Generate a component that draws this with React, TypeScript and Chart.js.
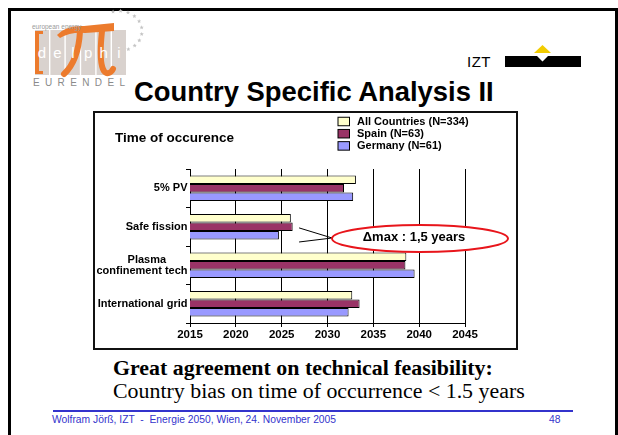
import React, { useEffect, useRef } from 'react';
import { Chart, registerables } from 'chart.js';

Chart.register(...registerables);

// ---- data ----
const categories: (string | string[])[] = [
  '5% PV',
  'Safe fission',
  ['Plasma       ', 'confinement tech'],
  'International grid',
];
const seriesNames = ['All Countries (N=334)', 'Spain (N=63)', 'Germany (N=61)'];
const allCountries = [2033.1, 2026.0, 2038.6, 2032.7];
const spain = [2031.8, 2026.2, 2038.5, 2033.5];
const germany = [2032.8, 2024.7, 2039.5, 2032.3];
const seriesColors = ['#FFFFCC', '#993366', '#9999FF'];
const axisMin = 2015;
const axisMax = 2045;
const axisStep = 5;
const chartHeading = 'Time of occurence';
const annotationText = '\u0394max : 1,5 years';

const SANS = "'Liberation Sans', Arial, Helvetica, sans-serif";
const SERIF = "'Liberation Serif', 'Times New Roman', Times, serif";

const overlayPlugin = {
  id: 'overlay',
  afterDraw(chart: any, _args: any, opts: any) {
    const ctx = chart.ctx as CanvasRenderingContext2D;
    const xs = chart.scales.x;
    const ys = chart.scales.y;
    ctx.save();
    // heading
    ctx.fillStyle = '#000';
    ctx.font = `bold 13.5px ${SANS}`;
    ctx.textBaseline = 'middle';
    ctx.textAlign = 'left';
    ctx.fillText(opts.heading, 21, 26);
    // legend
    ctx.font = `bold 11px ${SANS}`;
    chart.data.datasets.forEach((ds: any, i: number) => {
      const cy = 9.5 + i * 12.2;
      ctx.fillStyle = ds.backgroundColor;
      ctx.fillRect(244, cy - 4.25, 11.5, 8.5);
      ctx.strokeStyle = '#000';
      ctx.lineWidth = 1;
      ctx.strokeRect(244, cy - 4.25, 11.5, 8.5);
      ctx.fillStyle = '#000';
      ctx.fillText(ds.label, 263, cy + 0.5);
    });
    // annotation: pointer lines
    const jx = xs.getPixelForValue(2030.5);
    const jy = ys.getPixelForValue(1.292);
    const sx = xs.getPixelForValue(2026.9);
    ctx.strokeStyle = '#000';
    ctx.lineWidth = 1;
    ctx.beginPath();
    ctx.moveTo(sx, ys.getPixelForValue(1.03));
    ctx.lineTo(jx, jy);
    ctx.moveTo(sx, ys.getPixelForValue(1.396));
    ctx.lineTo(jx, jy);
    ctx.stroke();
    // ellipse
    const ex = xs.getPixelForValue(2040.09);
    const ey = ys.getPixelForValue(1.305);
    ctx.beginPath();
    ctx.ellipse(ex, ey, 88, 13.5, 0, 0, Math.PI * 2);
    ctx.fillStyle = '#fff';
    ctx.fill();
    ctx.strokeStyle = '#E8151B';
    ctx.lineWidth = 2;
    ctx.stroke();
    ctx.fillStyle = '#000';
    ctx.font = `bold 13px ${SANS}`;
    ctx.textAlign = 'center';
    ctx.textBaseline = 'middle';
    ctx.fillText(opts.note, xs.getPixelForValue(2039.44), ys.getPixelForValue(1.266));
    ctx.restore();
  },
};

const T = ({ x, y, size, children, style }: any) => (
  <div
    style={{
      position: 'absolute',
      left: x,
      top: y,
      fontSize: size,
      lineHeight: 1,
      whiteSpace: 'pre',
      ...style,
    }}
  >
    {children}
  </div>
);

export default function App() {
  const canvasRef = useRef<HTMLCanvasElement>(null);

  useEffect(() => {
    Chart.defaults.font.family = SANS;
    Chart.defaults.color = '#000';
    const data = [allCountries, spain, germany];
    const chart = new Chart(canvasRef.current as HTMLCanvasElement, {
      type: 'bar',
      data: {
        labels: categories as any,
        datasets: seriesNames.map((name, i) => ({
          label: name,
          data: data[i],
          backgroundColor: seriesColors[i],
          borderColor: '#000',
          borderWidth: 1,
          categoryPercentage: 0.66,
          barPercentage: 1,
        })),
      },
      options: {
        indexAxis: 'y',
        responsive: false,
        animation: false,
        devicePixelRatio: 1,
        layout: { padding: { left: 0, top: 57, right: 52, bottom: 0 } },
        plugins: {
          legend: { display: false },
          tooltip: { enabled: false },
          title: { display: false },
          overlay: { heading: chartHeading, note: annotationText },
        } as any,
        scales: {
          x: {
            type: 'linear',
            min: axisMin,
            max: axisMax,
            grid: { color: '#000', lineWidth: 1, drawTicks: true, tickLength: 4 },
            border: { display: true, color: '#000', width: 1 },
            ticks: {
              stepSize: axisStep,
              callback: (v: any) => String(v),
              font: { size: 11.5, weight: 'bold' },
              color: '#000',
              padding: 1,
              maxRotation: 0,
            },
            afterFit: (s: any) => {
              s.height = 26;
            },
          },
          y: {
            type: 'category',
            offset: true,
            grid: {
              display: true,
              drawOnChartArea: false,
              drawTicks: true,
              tickLength: 4,
              color: '#000',
              offset: true,
            },
            border: { display: true, color: '#000', width: 1 },
            ticks: {
              font: { size: 11, weight: 'bold', lineHeight: 1.0 },
              color: '#000',
              padding: -1.5,
              autoSkip: false,
            },
            afterFit: (s: any) => {
              s.width = 96;
            },
          },
        } as any,
      },
      plugins: [overlayPlugin as any],
    } as any);
    return () => chart.destroy();
  }, []);

  const stars: [number, number][] = [];
  for (let a = -105; a <= 85; a += 19) {
    const r = (a * Math.PI) / 180;
    stars.push([119 + 23 * Math.cos(r), 31 + 20 * Math.sin(r)]);
  }
  const starPts = (cx: number, cy: number, R: number) => {
    const p: string[] = [];
    for (let k = 0; k < 10; k++) {
      const rr = k % 2 === 0 ? R : R * 0.45;
      const ang = (Math.PI / 5) * k - Math.PI / 2;
      p.push(`${(cx + rr * Math.cos(ang)).toFixed(2)},${(cy + rr * Math.sin(ang)).toFixed(2)}`);
    }
    return p.join(' ');
  };

  const cols = [0, 1, 2, 3, 4, 5];
  const letters = ['d', 'e', 'l', 'p', 'h', 'i'];

  return (
    <div
      style={{
        position: 'absolute',
        left: 0,
        top: 0,
        width: 618,
        height: 435,
        overflow: 'hidden',
        background: '#fff',
        fontFamily: SANS,
        color: '#000',
      }}
    >
      {/* slide frame */}
      <div
        style={{
          position: 'absolute',
          left: 8,
          top: 8,
          width: 610,
          height: 450,
          border: '3px solid #000',
          boxSizing: 'border-box',
        }}
      />

      {/* logos */}
      <svg
        width={618}
        height={110}
        style={{ position: 'absolute', left: 0, top: 0 }}
      >
        {stars.map(([sx, sy], i) => (
          <polygon key={i} points={starPts(sx, sy, 2.2)} fill="#c4c4c4" />
        ))}
        {cols.map((i) => (
          <rect key={i} x={35 + i * 15.4} y={30} width={14} height={45} fill="#D9D2CE" />
        ))}
        {/* orange bracket */}
        <rect x={35} y={31} width={4} height={43} fill="#EC7B2D" />
        <rect x={35} y={31} width={8} height={3} fill="#EC7B2D" />
        <rect x={35} y={71} width={8} height={3} fill="#EC7B2D" />
        {/* pi */}
        <path d="M57 35 Q 66 25 84 26 L 114 23 L 114 31 L 85 33 Q 70 32 60 38 Z" fill="#EC7B2D" />
        <path d="M80 31 C 79 50, 75 64, 64 74" stroke="#EC7B2D" strokeWidth={6} fill="none" strokeLinecap="round" />
        <path d="M102 31 C 100 50, 100 65, 104 71 C 107 75, 111 73, 113 69" stroke="#EC7B2D" strokeWidth={6} fill="none" strokeLinecap="round" />
        {letters.map((l, i) => (
          <text
            key={l}
            x={42 + i * 15.4}
            y={58}
            fontSize={15}
            fontFamily={SANS}
            fill="#fff"
            textAnchor="middle"
          >
            {l}
          </text>
        ))}
        <text x={32} y={29} fontSize={6.5} fontFamily={SANS} fill="#9a9a9a">
          european energy
        </text>
        <text
          x={33}
          y={86}
          fontSize={10}
          fontFamily={SANS}
          fill="#8a8a8a"
          textLength={92}
          lengthAdjust="spacing"
        >
          EURENDEL
        </text>
        {/* IZT mark */}
        <polygon points="505,56 537,56 542.5,61.5 548,56 581,56 581,67 505,67" fill="#000" />
        <polygon points="534,53 551,53 542.5,45" fill="#F2CC00" />
      </svg>
      <T x={467} y={54} size={15} style={{ letterSpacing: 0.5 }}>
        IZT
      </T>

      {/* title */}
      <T x={134} y={77.5} size={27.4} style={{ fontWeight: 'bold' }}>
        Country Specific Analysis II
      </T>

      {/* chart box */}
      <canvas
        ref={canvasRef}
        width={423}
        height={237}
        style={{ position: 'absolute', left: 94, top: 112, width: 423, height: 237 }}
      />
      <div
        style={{
          position: 'absolute',
          left: 93,
          top: 111,
          width: 425,
          height: 239,
          border: '2px solid #111',
          boxSizing: 'border-box',
          pointerEvents: 'none',
        }}
      />

      {/* conclusions */}
      <T x={113} y={357} size={21.9} style={{ fontFamily: SERIF, fontWeight: 'bold' }}>
        Great agreement on technical feasibility:
      </T>
      <T x={113} y={380} size={21.9} style={{ fontFamily: SERIF }}>
        {'Country bias on time of occurrence < 1.5 years'}
      </T>

      {/* footer */}
      <div
        style={{
          position: 'absolute',
          left: 53,
          top: 410,
          width: 520,
          height: 1.5,
          background: '#3333CC',
        }}
      />
      <T x={52} y={415} size={10.3} style={{ color: '#3333CC' }}>
        {'Wolfram J\u00F6r\u00DF, IZT  -  Energie 2050, Wien, 24. November 2005'}
      </T>
      <T x={549} y={415} size={10.3} style={{ color: '#3333CC' }}>
        48
      </T>
    </div>
  );
}
